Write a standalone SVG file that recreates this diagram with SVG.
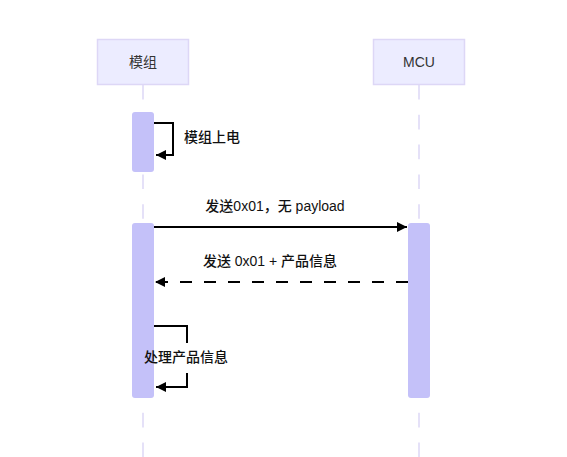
<svg xmlns="http://www.w3.org/2000/svg" width="567" height="457" viewBox="0 0 567 457">
<style>
.actor{fill:#ececff;stroke:#ddd7f6;stroke-width:1.5}
.atext{font-family:"Liberation Sans","Noto Sans CJK SC",sans-serif;font-size:14px;fill:#333;text-anchor:middle}
.life{stroke:#ddd7f6;stroke-width:1.5;stroke-dasharray:14.6 15.2;fill:none}
.act{fill:#c4c1f9;stroke:none}
.msg{stroke:#000;stroke-width:2;fill:none}
.dash{stroke-dasharray:12 12}
.mtext{font-family:"Liberation Sans","Noto Sans CJK SC",sans-serif;font-size:14px;fill:#111;font-weight:500}
</style>
<defs>
<marker id="ah" viewBox="0 0 10 10" refX="10" refY="5" markerWidth="10" markerHeight="10" markerUnits="userSpaceOnUse" orient="auto">
<path d="M0,0 L10,5 L0,10 Z" fill="#000"/>
</marker>
</defs>
<rect width="567" height="457" fill="#fff"/>
<g id="lifelines">
<line class="life" x1="143" y1="85" x2="143" y2="457"/>
<line class="life" x1="419" y1="85" x2="419" y2="457"/>
</g>
<g id="actor-module">
<rect class="actor" x="97.5" y="39.5" width="91" height="45"/>
<text class="atext" x="143" y="67">模组</text>
</g>
<g id="actor-mcu">
<rect class="actor" x="373.5" y="39.5" width="91" height="45"/>
<text class="atext" x="419" y="67">MCU</text>
</g>
<g id="activations">
<rect class="act" x="132" y="112" width="22" height="60" rx="3"/>
<rect class="act" x="132" y="223" width="22" height="175" rx="3"/>
<rect class="act" x="408" y="223" width="22" height="175" rx="3"/>
</g>
<g id="connectors">
<path class="msg" d="M154,123 H173 V155 H156" marker-end="url(#ah)"/>
<path class="msg" d="M154,227 H407" marker-end="url(#ah)"/>
<path class="msg dash" d="M408,282 H155" marker-end="url(#ah)"/>
<path class="msg" d="M154,326 H187 V343"/>
<path class="msg" d="M187,373 V387 H156" marker-end="url(#ah)"/>
</g>
<g id="labels">
<text class="mtext" x="184" y="142">模组上电</text>
<text class="mtext" x="275" y="211" text-anchor="middle">发送0x01，无 payload</text>
<text class="mtext" x="270" y="266" text-anchor="middle">发送 0x01 + 产品信息</text>
<text class="mtext" x="186" y="362" text-anchor="middle">处理产品信息</text>
</g>
</svg>
